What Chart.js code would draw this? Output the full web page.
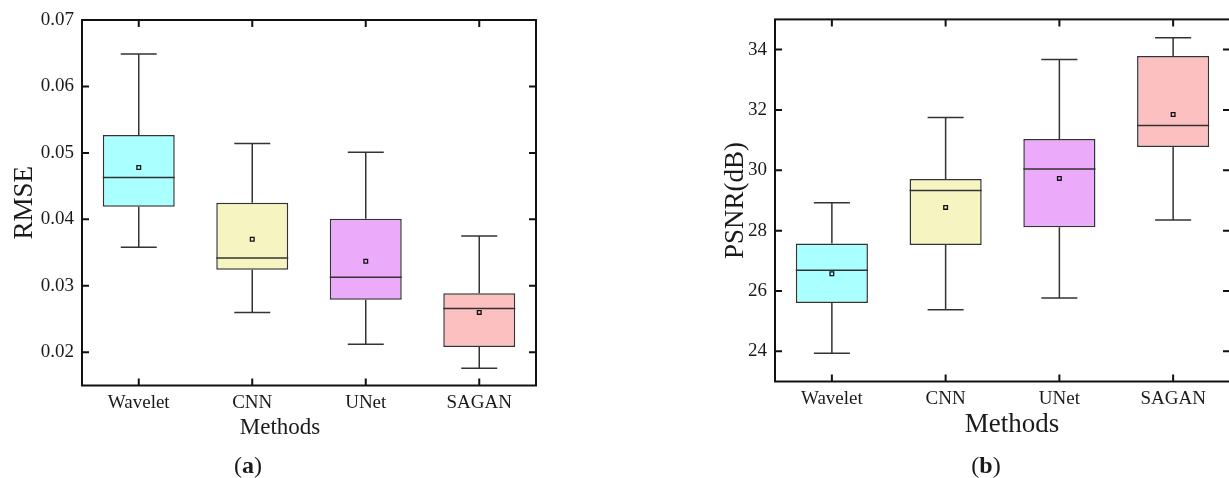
<!DOCTYPE html>
<html>
<head>
<meta charset="utf-8">
<script src="https://cdn.jsdelivr.net/npm/chart.js@4.4.1/dist/chart.umd.min.js"></script>
<style>
    html, body { margin: 0; padding: 0; background: #fff; width: 1229px; height: 478px; overflow: hidden; }
    .panel { position: absolute; top: 0; height: 420px; }
    #cajaA { left: 0; width: 560px; }
    #cajaB { left: 700px; width: 540px; }
    .lbl { position: absolute; font-family: 'Liberation Serif', serif; color: #1a1a1a; transform: translate(-50%, -50%); white-space: nowrap; }
</style>
</head>
<body>
<div class="panel" id="cajaA"><canvas id="graficoA"></canvas></div>
<div class="panel" id="cajaB"><canvas id="graficoB"></canvas></div>
<div class="lbl" style="left:280px; top:427px; font-size:23px;">Methods</div>
<div class="lbl" style="left:248px; top:465px; font-size:24px;">(<b>a</b>)</div>
<div class="lbl" style="left:1012px; top:423px; font-size:27px;">Methods</div>
<div class="lbl" style="left:986px; top:465px; font-size:24px;">(<b>b</b>)</div>
<script>
    var metodos = ['Wavelet', 'CNN', 'UNet', 'SAGAN'];
    var colores = ['#aaffff', '#f6f4c1', '#ebabfa', '#fcc0c0'];

    // RMSE (a)
    var rmseMin = [0.0358, 0.0260, 0.0212, 0.0176];
    var rmseQ1 = [0.0419, 0.0324, 0.0279, 0.0208];
    var rmseMediana = [0.0463, 0.0342, 0.0313, 0.0266];
    var rmseMedia = [0.0478, 0.0370, 0.0337, 0.0260];
    var rmseQ3 = [0.0527, 0.0425, 0.0401, 0.0289];
    var rmseMax = [0.0649, 0.0514, 0.0501, 0.0375];
    var rmseTicks = [0.02, 0.03, 0.04, 0.05, 0.06, 0.07];

    // PSNR (b)
    var psnrMin = [23.94, 25.38, 25.77, 28.35];
    var psnrQ1 = [25.60, 27.52, 28.11, 30.77];
    var psnrMediana = [26.69, 29.33, 30.04, 31.48];
    var psnrMedia = [26.57, 28.77, 29.73, 31.85];
    var psnrQ3 = [27.57, 29.71, 31.04, 33.79];
    var psnrMax = [28.92, 31.75, 33.67, 34.39];
    var psnrTicks = [24, 26, 28, 30, 32, 34];

    Chart.defaults.font.family = "'Liberation Serif', serif";
    Chart.defaults.color = '#1a1a1a';
    Chart.defaults.animation = false;

    // bigotes y mediana, dibujados justo despues de las cajas
    var bigotes = {
        id: 'bigotes',
        afterDatasetDraw: function (chart, args, opts) {
            if (args.index !== 0) return;
            var ctx = chart.ctx, y = chart.scales.y;
            ctx.save();
            ctx.strokeStyle = '#333';
            ctx.lineWidth = 1.5;
            args.meta.data.forEach(function (bar, i) {
                var cx = bar.x, hw = bar.width / 2, cap = bar.width / 4;
                var pMin = y.getPixelForValue(opts.min[i]);
                var pQ1 = y.getPixelForValue(opts.q1[i]);
                var pQ3 = y.getPixelForValue(opts.q3[i]);
                var pMax = y.getPixelForValue(opts.max[i]);
                var pMed = y.getPixelForValue(opts.mediana[i]);
                ctx.beginPath();
                ctx.moveTo(cx, pQ3); ctx.lineTo(cx, pMax);
                ctx.moveTo(cx - cap, pMax); ctx.lineTo(cx + cap, pMax);
                ctx.moveTo(cx, pQ1); ctx.lineTo(cx, pMin);
                ctx.moveTo(cx - cap, pMin); ctx.lineTo(cx + cap, pMin);
                ctx.moveTo(cx - hw, pMed); ctx.lineTo(cx + hw, pMed);
                ctx.stroke();
            });
            ctx.restore();
        }
    };

    // marco con marcas hacia dentro en los cuatro lados
    var marco = {
        id: 'marco',
        afterDraw: function (chart) {
            var ctx = chart.ctx, a = chart.chartArea;
            var x = chart.scales.x, y = chart.scales.y, largo = 7;
            ctx.save();
            ctx.strokeStyle = '#111';
            ctx.lineWidth = 2;
            ctx.strokeRect(a.left, a.top, a.right - a.left, a.bottom - a.top);
            ctx.beginPath();
            y.ticks.forEach(function (t) {
                var py = y.getPixelForValue(t.value);
                ctx.moveTo(a.left, py); ctx.lineTo(a.left + largo, py);
                ctx.moveTo(a.right, py); ctx.lineTo(a.right - largo, py);
            });
            x.ticks.forEach(function (t, i) {
                var px = x.getPixelForTick(i);
                ctx.moveTo(px, a.bottom); ctx.lineTo(px, a.bottom - largo);
                ctx.moveTo(px, a.top); ctx.lineTo(px, a.top + largo);
            });
            ctx.stroke();
            ctx.restore();
        }
    };

    function pares(q1, q3) {
        return q1.map(function (v, i) { return [v, q3[i]]; });
    }

    function grafico(id, d) {
        var ctx = document.getElementById(id).getContext('2d');
        return new Chart(ctx, {
            type: 'bar',
            data: {
                labels: metodos,
                datasets: [{
                    data: pares(d.q1, d.q3),
                    order: 1,
                    backgroundColor: colores,
                    borderColor: '#333',
                    borderWidth: 1.5,
                    borderSkipped: false,
                    barPercentage: 0.634,
                    categoryPercentage: 1
                }, {
                    type: 'line',
                    data: d.media,
                    order: 0,
                    showLine: false,
                    pointStyle: 'rect',
                    pointRadius: 2.6,
                    pointBorderWidth: 1.3,
                    pointBorderColor: '#111',
                    pointBackgroundColor: 'rgba(0,0,0,0)'
                }]
            },
            plugins: [bigotes, marco],
            options: {
                responsive: true,
                maintainAspectRatio: false,
                layout: { padding: d.padding },
                plugins: {
                    legend: { display: false },
                    tooltip: { enabled: false },
                    bigotes: { min: d.min, q1: d.q1, q3: d.q3, max: d.max, mediana: d.mediana }
                },
                scales: {
                    x: {
                        grid: { display: false, drawTicks: false },
                        border: { display: false },
                        ticks: { font: { size: 19 }, padding: d.padX },
                        afterFit: function (s) { s.height = d.altoX; }
                    },
                    y: {
                        min: d.yMin,
                        max: d.yMax,
                        grid: { display: false, drawTicks: false },
                        border: { display: false },
                        afterBuildTicks: function (s) {
                            s.ticks = d.ticks.map(function (v) { return { value: v }; });
                        },
                        ticks: {
                            font: { size: 19 },
                            padding: 8,
                            callback: d.formato
                        },
                        title: {
                            display: true,
                            text: d.titulo,
                            font: { size: 27 },
                            padding: { top: d.padTitulo, bottom: 0 }
                        },
                        afterFit: function (s) { s.width = d.anchoY; }
                    }
                }
            }
        });
    }

    grafico('graficoA', {
        min: rmseMin, q1: rmseQ1, mediana: rmseMediana, media: rmseMedia, q3: rmseQ3, max: rmseMax,
        ticks: rmseTicks, yMin: 0.015, yMax: 0.07, titulo: 'RMSE',
        formato: function (v) { return v.toFixed(2); },
        padding: { top: 20, right: 24, left: 0, bottom: 0 },
        anchoY: 82, altoX: 34.5, padX: 6, padTitulo: 9
    });

    grafico('graficoB', {
        min: psnrMin, q1: psnrQ1, mediana: psnrMediana, media: psnrMedia, q3: psnrQ3, max: psnrMax,
        ticks: psnrTicks, yMin: 23, yMax: 35, titulo: 'PSNR(dB)',
        formato: function (v) { return v; },
        padding: { top: 14, right: 10, left: 0, bottom: 0 },
        anchoY: 75, altoX: 38.5, padX: 6, padTitulo: 20
    });
</script>
</body>
</html>
